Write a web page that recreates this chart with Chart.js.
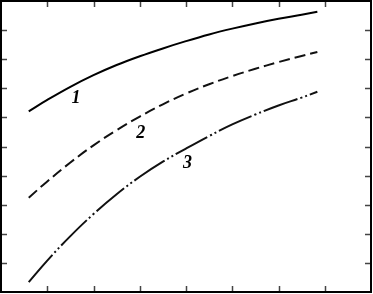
<!DOCTYPE html>
<html>
<head>
<meta charset="utf-8">
<script src="https://cdn.jsdelivr.net/npm/chart.js@4/dist/chart.umd.min.js"></script>
<style>
html,body{margin:0;padding:0;background:#fff;}
#wrap{width:373px;height:294px;position:relative;}
</style>
</head>
<body>
<div id="wrap"><canvas id="c" width="373" height="294"></canvas></div>
<script>
// x positions (axis units 0..8)
const xValues = [0.6, 1, 1.5, 2, 2.5, 3, 3.5, 4, 4.5, 5, 5.5, 6, 6.5, 6.84];
// series (axis units 0..10)
const curve1 = [6.21, 6.60, 7.05, 7.45, 7.80, 8.10, 8.37, 8.62, 8.85, 9.05, 9.23, 9.39, 9.53, 9.63];
const curve2 = [3.24, 3.80, 4.45, 5.04, 5.56, 6.03, 6.45, 6.82, 7.14, 7.42, 7.67, 7.90, 8.11, 8.25];
const curve3 = [0.34, 1.08, 1.92, 2.68, 3.36, 3.96, 4.48, 4.93, 5.36, 5.76, 6.10, 6.41, 6.68, 6.88];
// tick positions
const xTicks = [1, 2, 3, 4, 5, 6, 7];
const yTicks = [1, 2, 3, 4, 5, 6, 7, 8, 9];
// curve labels
const labelTexts = ["1", "2", "3"];
const labelX = [1.62, 3.02, 4.03];
const labelY = [6.64, 5.44, 4.42];

function pts(ys){ return xValues.map((x,i)=>({x:x, y:ys[i]})); }

const framePlugin = {
  id: 'frame',
  afterDraw(chart){
    const ctx = chart.ctx;
    const a = chart.chartArea;
    const xs = chart.scales.x, ys = chart.scales.y;
    ctx.save();
    // ticks inward on all sides
    ctx.strokeStyle = '#444';
    ctx.lineWidth = 1.5;
    const L = 6;
    xTicks.forEach(v=>{
      const px = Math.round(xs.getPixelForValue(v)) + 0.5;
      ctx.beginPath();
      ctx.moveTo(px, a.top); ctx.lineTo(px, a.top + L);
      ctx.moveTo(px, a.bottom); ctx.lineTo(px, a.bottom - L);
      ctx.stroke();
    });
    yTicks.forEach(v=>{
      const py = Math.round(ys.getPixelForValue(v)) + 0.5;
      ctx.beginPath();
      ctx.moveTo(a.left, py); ctx.lineTo(a.left + L, py);
      ctx.moveTo(a.right, py); ctx.lineTo(a.right - L, py);
      ctx.stroke();
    });
    // border
    ctx.strokeStyle = '#000';
    ctx.lineWidth = 2;
    ctx.strokeRect(a.left, a.top, a.right - a.left, a.bottom - a.top);
    // labels
    ctx.fillStyle = '#000';
    ctx.font = 'italic bold 18px "Liberation Serif", "DejaVu Serif", serif';
    ctx.textAlign = 'center';
    ctx.textBaseline = 'middle';
    labelTexts.forEach((t,i)=>{
      ctx.fillText(t, xs.getPixelForValue(labelX[i]), ys.getPixelForValue(labelY[i]));
    });
    ctx.restore();
  }
};

new Chart(document.getElementById('c'), {
  type: 'line',
  data: {
    datasets: [
      {data: pts(curve1), borderColor:'#000', borderWidth:2, pointRadius:0, tension:0.4, fill:false},
      {data: pts(curve2), borderColor:'#111', borderWidth:2, pointRadius:0, tension:0.4, fill:false, borderDash:[11,5]},
      {data: pts(curve3), borderColor:'#111', borderWidth:2, pointRadius:0, tension:0.4, fill:false, borderDash:[36,3,2,3,2,3]}
    ]
  },
  options: {
    responsive: false,
    animation: false,
    devicePixelRatio: 1,
    layout: {padding: {left:1, right:2, top:1, bottom:2}},
    plugins: {legend:{display:false}, tooltip:{enabled:false}},
    scales: {
      x: {type:'linear', min:0, max:8, display:false},
      y: {type:'linear', min:0, max:10, display:false}
    }
  },
  plugins: [framePlugin]
});
</script>
</body>
</html>
